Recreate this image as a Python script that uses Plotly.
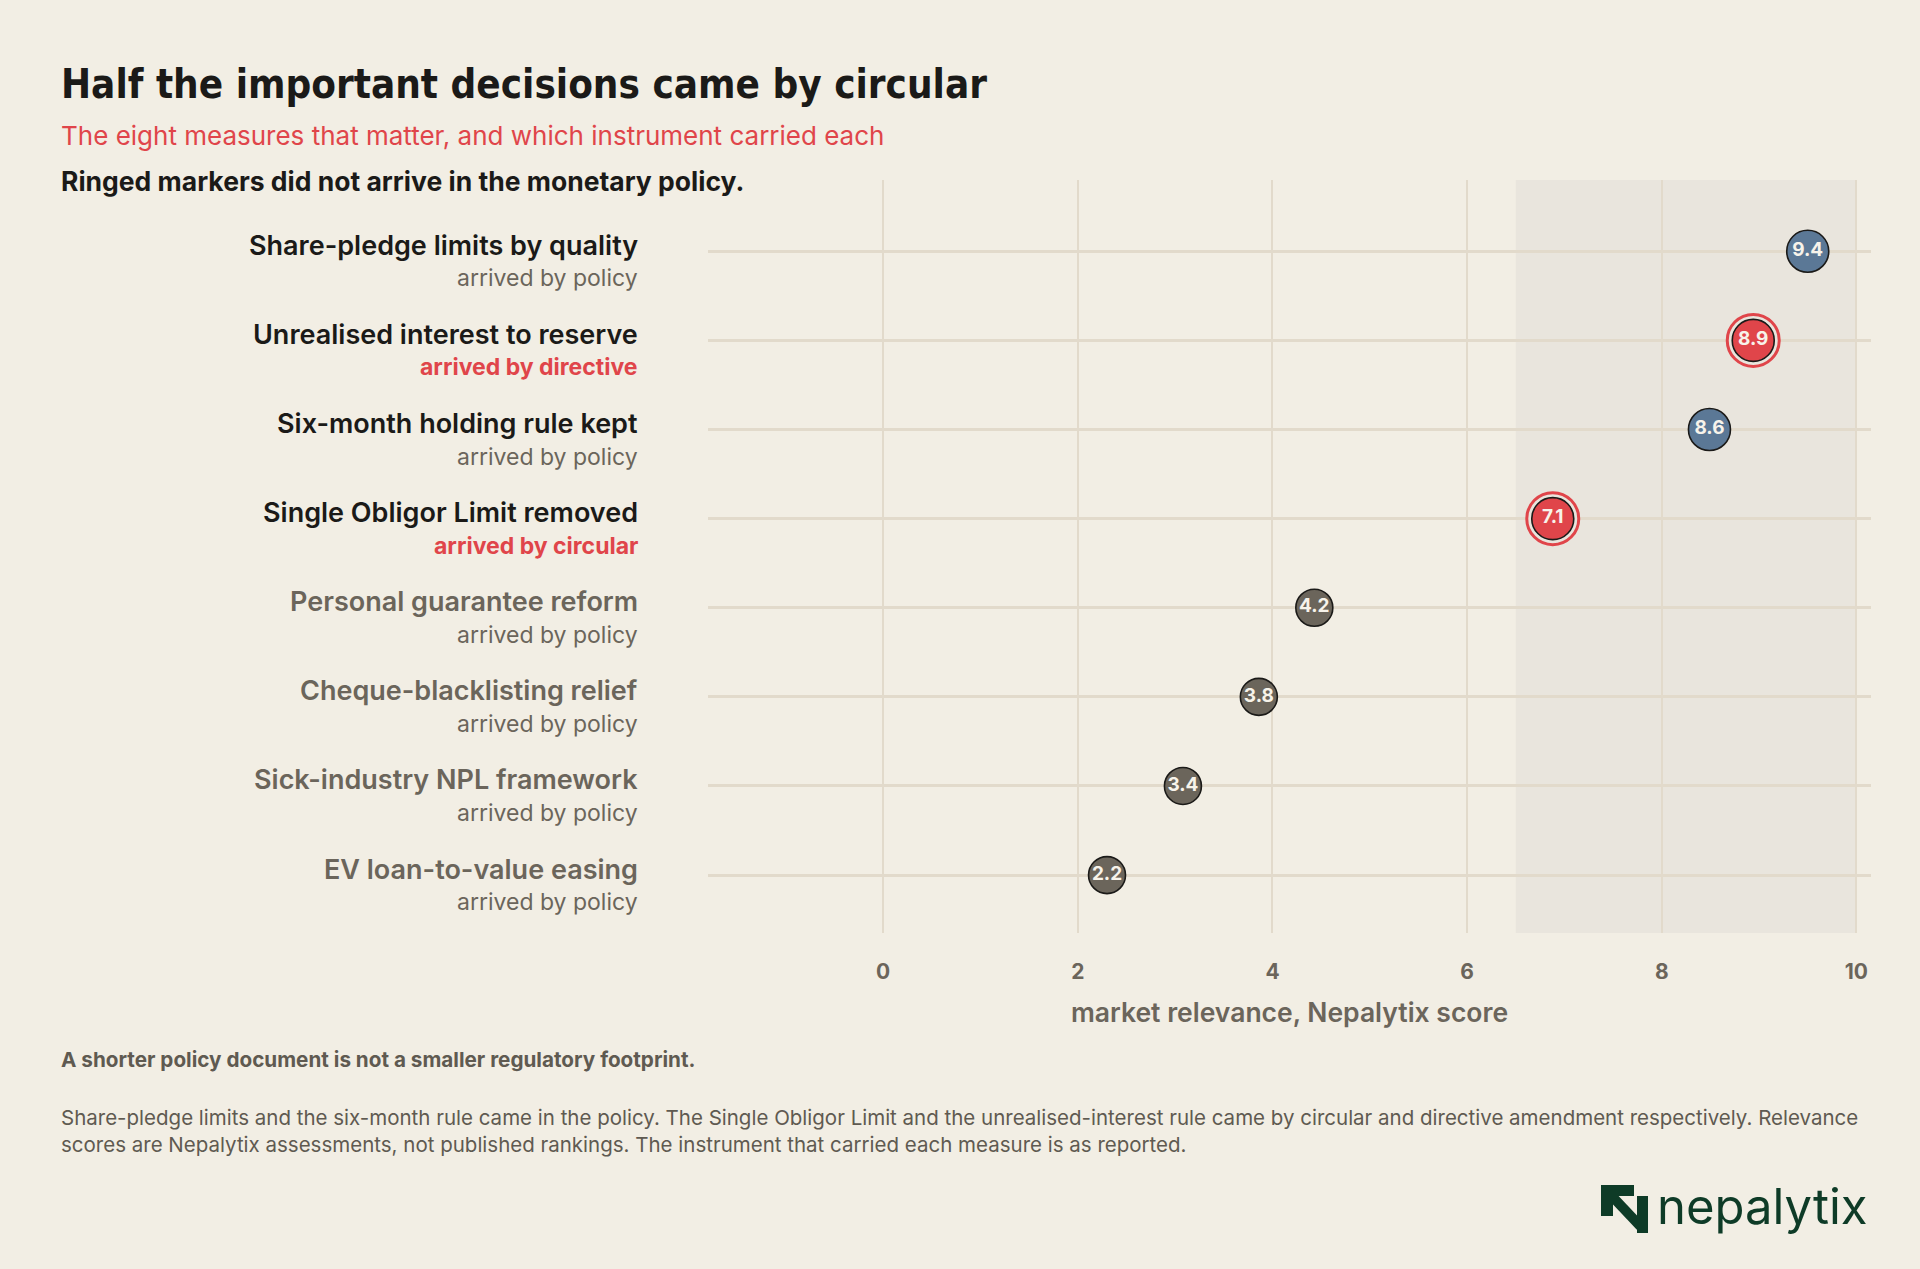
import plotly.graph_objects as go

# measures, top to bottom
measures = [
    "Share-pledge limits by quality",
    "Unrealised interest to reserve",
    "Six-month holding rule kept",
    "Single Obligor Limit removed",
    "Personal guarantee reform",
    "Cheque-blacklisting relief",
    "Sick-industry NPL framework",
    "EV loan-to-value easing",
]
instrument = ["policy", "directive", "policy", "circular", "policy", "policy", "policy", "policy"]
score = [9.4, 8.9, 8.6, 7.1, 4.2, 3.8, 3.4, 2.2]
# horizontal position where each marker sits in the picture
drawn_at = [9.50, 8.94, 8.49, 6.88, 4.43, 3.86, 3.08, 2.30]
top_tier = [True, True, True, True, False, False, False, False]
band = [6.5, 10]
ticks = [0, 2, 4, 6, 8, 10]

BG = "#f2eee4"
BAND = "#e9e5dd"
GRID = "#e2dacb"
RED = "#e0454a"
BLUE = "#5b7896"
GREY = "#6b655b"
INK = "#1b1a18"
MUTED = "#6b655b"
FONT = "Inter, Noto Sans, sans-serif"
TITLE_FONT = ("Liberation Sans Narrow, Noto Sans ExtraCondensed, Noto Sans Condensed, "
              "DejaVu Sans Condensed, sans-serif")

W, H = 1920, 1269
L, R, T, B = 708, 49, 180, 336
pw, ph = W - L - R, H - T - B


def px(x):
    return (x - L) / pw


def py(y):
    return (H - B - y) / ph


rows = list(range(len(measures)))
ringed = [i for i in rows if instrument[i] != "policy"]


def marker_colour(i):
    if instrument[i] != "policy":
        return RED
    return BLUE if top_tier[i] else GREY


fig = go.Figure()

# outer rings for measures that did not come through the policy
fig.add_trace(go.Scatter(
    x=[drawn_at[i] for i in ringed], y=ringed, mode="markers",
    marker=dict(size=52, color=BAND, opacity=1, line=dict(color=RED, width=3)),
    hoverinfo="skip", showlegend=False,
))

fig.add_trace(go.Scatter(
    x=drawn_at, y=rows, mode="markers+text",
    text=[f"{s:.1f}" for s in score], textposition="middle center",
    textfont=dict(family=FONT, size=19, color="#f7f3ea", weight=700),
    marker=dict(size=[42 if t else 37 for t in top_tier], opacity=1,
                color=[marker_colour(i) for i in rows],
                line=dict(color="#1b1a18", width=1.6)),
    hoverinfo="skip", showlegend=False,
))

fig.add_shape(type="rect", xref="x", yref="paper", x0=band[0], x1=band[1], y0=0, y1=1,
              fillcolor=BAND, line=dict(width=0), layer="below")

annotations = []
for i in rows:
    annotations.append(dict(
        x=px(640), y=i, xref="paper", yref="y", xanchor="right", yanchor="middle",
        yshift=6, showarrow=False, text=measures[i],
        font=dict(family=FONT, size=27, weight=600, color=INK if top_tier[i] else MUTED),
    ))
    red = instrument[i] != "policy"
    annotations.append(dict(
        x=px(640), y=i, xref="paper", yref="y", xanchor="right", yanchor="middle",
        yshift=-27, showarrow=False, text=f"arrived by {instrument[i]}",
        font=dict(family=FONT, size=23, weight=700 if red else 400, color=RED if red else MUTED),
    ))

header = [
    ("Half the important decisions came by circular", 84, 40, TITLE_FONT, 700, INK),
    ("The eight measures that matter, and which instrument carried each", 135, 26, FONT, 400, RED),
    ("Ringed markers did not arrive in the monetary policy.", 181, 26.5, FONT, 700, INK),
    ("A shorter policy document is not a smaller regulatory footprint.", 1059, 20.7, FONT, 700, "#5f5a51"),
]
for text, y, size, fam, weight, col in header:
    annotations.append(dict(
        x=px(59), y=py(y), xref="paper", yref="paper", xanchor="left", yanchor="middle",
        showarrow=False, text=text, font=dict(family=fam, size=size, weight=weight, color=col),
    ))

annotations.append(dict(
    x=px(59), y=py(1131), xref="paper", yref="paper", xanchor="left", yanchor="middle",
    showarrow=False, align="left",
    text=("Share-pledge limits and the six-month rule came in the policy. The Single Obligor Limit "
          "and the unrealised-interest rule came by circular and directive amendment respectively. "
          "Relevance<br>scores are Nepalytix assessments, not published rankings. The instrument "
          "that carried each measure is as reported."),
    font=dict(family=FONT, size=20.5, color="#5f5a51"),
))

annotations.append(dict(
    x=px(1870), y=py(1206), xref="paper", yref="paper", xanchor="right", yanchor="middle",
    showarrow=False, text="nepalytix", font=dict(family=FONT, size=49, color="#0e3b27"),
))


# logo mark
def logo_path(points):
    return "M " + " L ".join(f"{px(a):.5f},{py(b):.5f}" for a, b in points) + " Z"


mark = [
    [(1601, 1185), (1634, 1185), (1634, 1196), (1613, 1196), (1613, 1216), (1601, 1216)],
    [(1605, 1196), (1612, 1189), (1646, 1225), (1639, 1232)],
    [(1637, 1196), (1648, 1196), (1648, 1233), (1637, 1233)],
]
for pts in mark:
    fig.add_shape(type="path", xref="paper", yref="paper", path=logo_path(pts),
                  fillcolor="#0e3b27", line=dict(width=0))

fig.update_layout(
    width=W, height=H,
    margin=dict(l=L, r=R, t=T, b=B),
    paper_bgcolor=BG, plot_bgcolor=BG,
    annotations=annotations,
    xaxis=dict(
        range=[-1.8, 10.15], tickvals=ticks, showgrid=True, gridcolor=GRID, gridwidth=1.5,
        zeroline=False, showline=False, ticks="", ticklabelstandoff=24,
        tickfont=dict(family=FONT, size=21, weight=700, color=MUTED),
        title=dict(text="market relevance, Nepalytix score", standoff=20,
                   font=dict(family=FONT, size=26.5, weight=600, color=MUTED)),
    ),
    yaxis=dict(
        range=[7.65, -0.8], tickvals=rows, showticklabels=False, showgrid=True,
        gridcolor=GRID, gridwidth=2.5, zeroline=False, showline=False,
    ),
)

fig.write_html("out.html", config={"displayModeBar": False},
               post_script="document.body.style.margin='0';")
